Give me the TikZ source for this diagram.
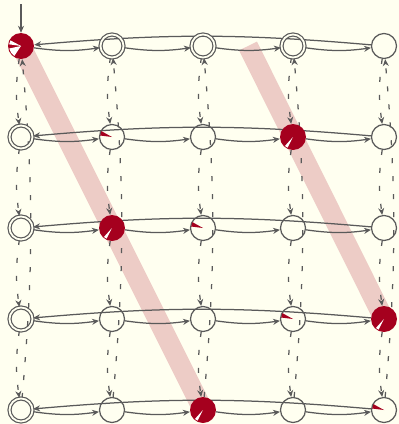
\documentclass[tikz,border=0pt]{standalone}
\usetikzlibrary{arrows.meta}
\definecolor{bgc}{HTML}{FFFFF0}
\definecolor{ln}{HTML}{5A5A5A}
\definecolor{rd}{HTML}{A5001E}
\pgfdeclarelayer{bg}
\pgfdeclarelayer{edges}
\pgfsetlayers{bg,edges,main}
\tikzset{
 st/.style={circle, draw=ln, line width=1.25pt, minimum size=25pt, inner sep=0pt},
 dbl/.style={circle, draw=ln, line width=1.2pt, double=bgc, double distance=1.8pt, minimum size=23pt, inner sep=0pt},
 hit/.style={circle, fill=rd, minimum size=26pt, inner sep=0pt},
 fw/.style={draw=ln, line width=1.25pt, -{Stealth[length=7pt,width=6pt,inset=2.2pt]}},
 dsh/.style={fw, dash pattern=on 5pt off 13pt},
 band/.style={draw=rd, draw opacity=0.2, line width=20pt}
}
\begin{document}
\begin{tikzpicture}[x=1pt,y=-1pt]
\begin{pgfonlayer}{bg}
\fill[bgc] (0,0) rectangle (399,424);
\end{pgfonlayer}
\useasboundingbox (0,0) rectangle (399,424);
% nodes
\node[hit] (n00) at (21,46) {};
\node[dbl] (n01) at (112,46) {};
\node[dbl] (n02) at (203,46) {};
\node[dbl] (n03) at (293,46) {};
\node[st]  (n04) at (384,46) {};
\node[dbl] (n10) at (21,137) {};
\node[st]  (n11) at (112,137) {};
\node[st]  (n12) at (203,137) {};
\node[hit] (n13) at (293,137) {};
\node[st]  (n14) at (384,137) {};
\node[dbl] (n20) at (21,228) {};
\node[hit] (n21) at (112,228) {};
\node[st]  (n22) at (203,228) {};
\node[st]  (n23) at (293,228) {};
\node[st]  (n24) at (384,228) {};
\node[dbl] (n30) at (21,319) {};
\node[st]  (n31) at (112,319) {};
\node[st]  (n32) at (203,319) {};
\node[st]  (n33) at (293,319) {};
\node[hit] (n34) at (384,319) {};
\node[dbl] (n40) at (21,410) {};
\node[st]  (n41) at (112,410) {};
\node[hit] (n42) at (203,410) {};
\node[st]  (n43) at (293,410) {};
\node[st]  (n44) at (384,410) {};
\coordinate (init) at (21,4);
\coordinate (b2) at (248,46);
% bands
\begin{pgfonlayer}{bg}
\draw[band] (n00.center) -- (n42.center);
\draw[band] (b2) -- (n34.center);
\end{pgfonlayer}
% edges
\begin{pgfonlayer}{edges}
\draw[fw] (init) -- (n00);
\foreach \r in {0,...,4}{
  \foreach \c [evaluate=\c as \d using int(\c+1)] in {0,...,3}{
    \draw[fw] (n\r\c) to[bend right=8] (n\r\d);
  }
  \draw[fw] (n\r4) to[bend right=5] (n\r0);
}
\foreach \c in {0,...,4}{
  \foreach \r [evaluate=\r as \s using int(\r+1)] in {0,...,3}{
    \draw[dsh] (n\r\c) to[bend right=8] (n\s\c);
  }
  \draw[dsh] (n4\c) to[bend right=5] (n0\c);
}
\end{pgfonlayer}
% wedges
\foreach \n in {n13,n21,n34,n42}{
  \fill[white] (\n.center) -- ++(228:12pt) arc[start angle=228,end angle=243,radius=12pt] -- cycle;
}
\foreach \n in {n11,n22,n33,n44}{
  \fill[rd] (\n.center) -- ++(151:12pt) arc[start angle=151,end angle=173,radius=12pt] -- cycle;
}
\fill[white] (n00.center) -- ++(152:12pt) arc[start angle=152,end angle=172,radius=12pt] -- cycle;
\fill[white] (n00.center) -- ++(192:12pt) arc[start angle=192,end angle=236,radius=12pt] -- cycle;
\end{tikzpicture}
\end{document}
